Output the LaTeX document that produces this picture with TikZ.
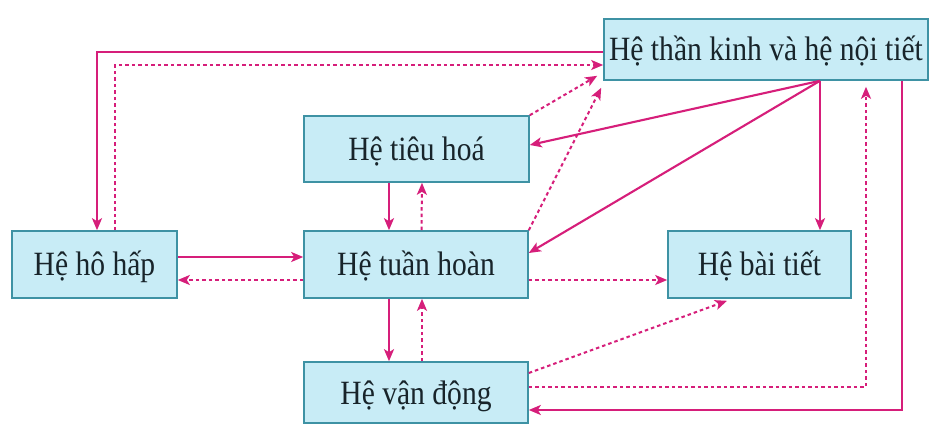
\documentclass[tikz,border=0pt]{standalone}
\usepackage{fontspec}
\setmainfont[FakeStretch=0.87]{Liberation Serif}
\usetikzlibrary{arrows.meta}
\definecolor{linkc}{RGB}{214,30,122}
\definecolor{boxfill}{RGB}{200,236,246}
\definecolor{boxline}{RGB}{62,146,164}
\definecolor{txt}{RGB}{24,36,42}
\tikzset{
  sysbox/.style={draw=boxline, line width=1.6pt, fill=boxfill, inner sep=0pt,
    text=txt, font=\fontsize{34}{36}\selectfont, text height=23pt, text depth=0pt},
  solidlink/.style={draw=linkc, line width=2.1pt, -{Stealth[length=12pt,width=10pt,inset=3pt]}},
  dashlink/.style={draw=linkc, line width=2pt, dash pattern=on 3.5pt off 3pt,
    -{Stealth[length=12pt,width=10pt,inset=3pt]}}
}
\begin{document}
\begin{tikzpicture}[x=1pt,y=-1pt]
\useasboundingbox (0,0) rectangle (930,425);
\fill[white] (0,0) rectangle (930,425);

% body systems
\node[sysbox, minimum width=324pt, minimum height=61pt] (tk) at (766,49.5) {Hệ thần kinh và hệ nội tiết};
\node[sysbox, minimum width=225pt, minimum height=66pt] (th) at (416.5,149) {Hệ tiêu hoá};
\node[sysbox, minimum width=165pt, minimum height=67pt] (hh) at (94.5,264.5) {Hệ hô hấp};
\node[sysbox, minimum width=224pt, minimum height=67pt] (tu) at (416,264.5) {Hệ tuần hoàn};
\node[sysbox, minimum width=183pt, minimum height=67pt] (bt) at (759.5,264.5) {Hệ bài tiết};
\node[sysbox, minimum width=224pt, minimum height=61pt] (vd) at (416,392.5) {Hệ vận động};

% control from the nervous/endocrine system
\coordinate (src) at ([xshift=54pt]tk.south);
\draw[solidlink] ([yshift=-2.5pt]tk.west) -| ([xshift=2.5pt]hh.north);
\draw[solidlink] (src) -- ([yshift=4pt]th.east);
\draw[solidlink] (src) -- ([yshift=11.5pt]tu.east);
\draw[solidlink] (src) -- (src |- bt.north);
\draw[solidlink] ([xshift=136pt]tk.south) |- ([yshift=-17.5pt]vd.east);

% feedback to the nervous/endocrine system
\draw[dashlink] ([xshift=20.5pt]hh.north) |- ([yshift=-15.5pt]tk.west);
\draw[dashlink] (th.north east) -- ([xshift=-6pt,yshift=5pt]tk.south west);
\draw[dashlink] (tu.north east) -- ([xshift=-2pt,yshift=-7pt]tk.south west);
\draw[dashlink, shorten >=6pt] ([yshift=5.5pt]vd.east) -| ([xshift=100pt]tk.south);

% exchanges around the circulatory system
\draw[solidlink] ([yshift=7.5pt]hh.east) -- ([yshift=7.5pt]tu.west);
\draw[dashlink] ([yshift=-15.5pt]tu.west) -- ([yshift=-15.5pt]hh.east);
\draw[solidlink] ([xshift=-27.5pt]th.south) -- ([xshift=-27pt]tu.north);
\draw[dashlink] ([xshift=5.5pt]tu.north) -- ([xshift=5.5pt]th.south);
\draw[solidlink] ([xshift=-27pt]tu.south) -- ([xshift=-27pt]vd.north);
\draw[dashlink] ([xshift=6pt]vd.north) -- ([xshift=6pt]tu.south);
\draw[dashlink] ([yshift=-15.5pt]tu.east) -- ([yshift=-15.5pt]bt.west);
\draw[dashlink] ([yshift=19.5pt]vd.east) -- ([xshift=-32.5pt,yshift=-2pt]bt.south);
\end{tikzpicture}
\end{document}
